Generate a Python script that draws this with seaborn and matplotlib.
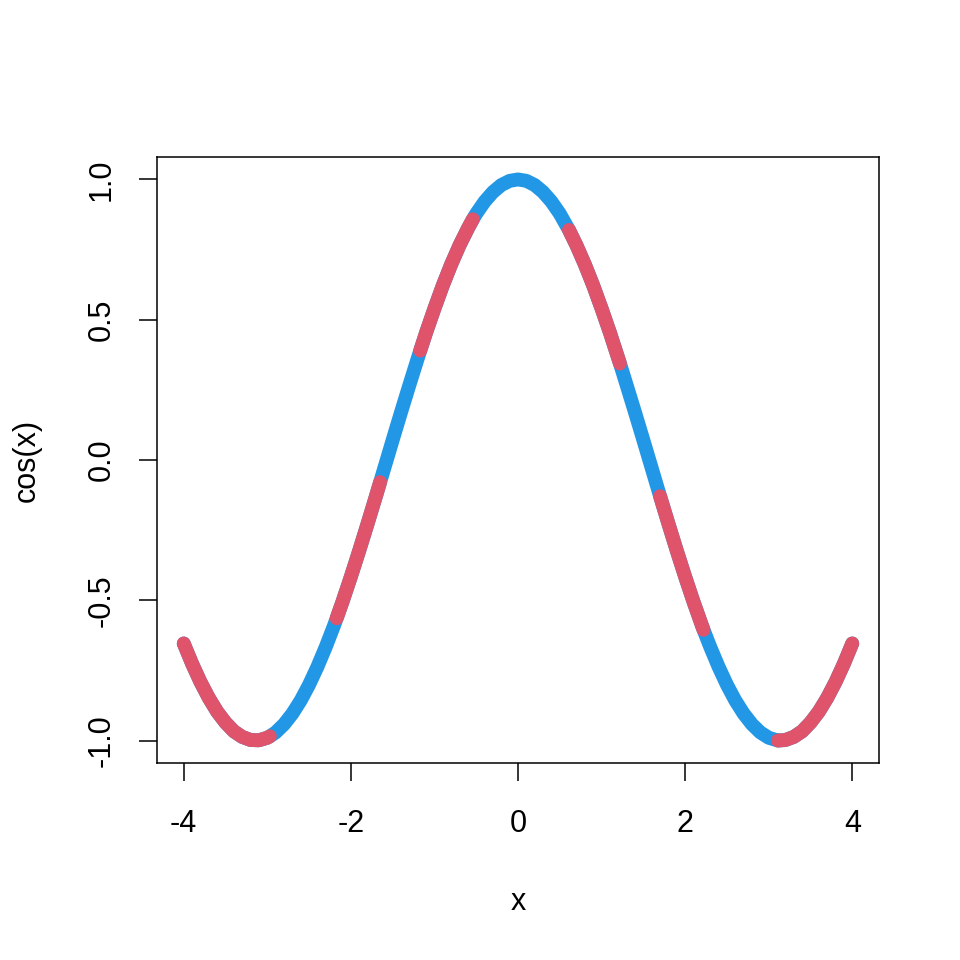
import matplotlib
matplotlib.use("Agg")
import matplotlib.pyplot as plt
import pandas as pd
import seaborn as sns

sns.set_theme(style="white")
plt.rcParams["font.family"] = ["Liberation Sans", "DejaVu Sans"]

BLUE = "#2297E6"
RED = "#DF536B"

# curve points (x, cos(x)), every 0.1
grid_x = [-4.0, -3.9, -3.8, -3.7, -3.6, -3.5, -3.4, -3.3, -3.2, -3.1,
          -3.0, -2.9, -2.8, -2.7, -2.6, -2.5, -2.4, -2.3, -2.2, -2.1,
          -2.0, -1.9, -1.8, -1.7, -1.6, -1.5, -1.4, -1.3, -1.2, -1.1,
          -1.0, -0.9, -0.8, -0.7, -0.6, -0.5, -0.4, -0.3, -0.2, -0.1,
          0.0, 0.1, 0.2, 0.3, 0.4, 0.5, 0.6, 0.7, 0.8, 0.9,
          1.0, 1.1, 1.2, 1.3, 1.4, 1.5, 1.6, 1.7, 1.8, 1.9,
          2.0, 2.1, 2.2, 2.3, 2.4, 2.5, 2.6, 2.7, 2.8, 2.9,
          3.0, 3.1, 3.2, 3.3, 3.4, 3.5, 3.6, 3.7, 3.8, 3.9, 4.0]
grid_y = [-0.654, -0.726, -0.791, -0.848, -0.897, -0.936, -0.967, -0.987, -0.998, -0.999,
          -0.990, -0.971, -0.942, -0.904, -0.857, -0.801, -0.737, -0.666, -0.589, -0.505,
          -0.416, -0.323, -0.227, -0.129, -0.029, 0.071, 0.170, 0.267, 0.362, 0.454,
          0.540, 0.622, 0.697, 0.765, 0.825, 0.878, 0.921, 0.955, 0.980, 0.995,
          1.000, 0.995, 0.980, 0.955, 0.921, 0.878, 0.825, 0.765, 0.697, 0.622,
          0.540, 0.454, 0.362, 0.267, 0.170, 0.071, -0.029, -0.129, -0.227, -0.323,
          -0.416, -0.505, -0.589, -0.666, -0.737, -0.801, -0.857, -0.904, -0.942, -0.971,
          -0.990, -0.999, -0.998, -0.987, -0.967, -0.936, -0.897, -0.848, -0.791, -0.726, -0.654]

# points where the colour changes
break_x = [-2.97, -2.17, -1.65, -1.17, -0.54, 0.61, 1.22, 2.22, 3.11]
break_y = [-0.985, -0.564, -0.079, 0.390, 0.858, 0.820, 0.344, -0.605, -1.000]

# red stretches drawn over the blue curve
red_starts = [-4.0, -2.17, -1.17, 0.61, 1.70, 3.11]
red_ends = [-2.97, -1.65, -0.54, 1.22, 2.22, 4.0]

x_ticks = [-4, -2, 0, 2, 4]
x_labels = ["-4", "-2", "0", "2", "4"]
y_ticks = [-1.0, -0.5, 0.0, 0.5, 1.0]
y_labels = ["-1.0", "-0.5", "0.0", "0.5", "1.0"]

df = pd.DataFrame({"x": grid_x + break_x, "y": grid_y + break_y})
df = df.sort_values("x").reset_index(drop=True)

fig = plt.figure(figsize=(9.6, 9.6), dpi=100)
ax = fig.add_axes([157 / 960, 1 - 763 / 960, 722 / 960, 606 / 960])

line_kw = dict(linewidth=10, estimator=None, sort=True, ax=ax,
               solid_capstyle="round", solid_joinstyle="round")
sns.lineplot(data=df, x="x", y="y", color=BLUE, **line_kw)
for a, b in zip(red_starts, red_ends):
    seg = df[(df["x"] >= a - 1e-9) & (df["x"] <= b + 1e-9)]
    sns.lineplot(data=seg, x="x", y="y", color=RED, **line_kw)

ax.set_xlim(-4.32, 4.32)
ax.set_ylim(-1.08, 1.08)
ax.set_xticks(x_ticks)
ax.set_xticklabels(x_labels)
ax.set_yticks(y_ticks)
ax.set_yticklabels(y_labels)
for lab in ax.get_yticklabels():
    lab.set_rotation(90)
    lab.set_va("center")

for s in ax.spines.values():
    s.set_visible(True)
    s.set_color("black")
    s.set_linewidth(1.1)

ax.tick_params(axis="both", direction="out", length=13, width=1.1, color="black",
               labelsize=22, labelcolor="black", bottom=True, left=True)
ax.tick_params(axis="x", pad=20)
ax.tick_params(axis="y", pad=16)

ax.set_xlabel("x", fontsize=22, color="black")
ax.set_ylabel("cos(x)", fontsize=22, color="black")
ax.xaxis.set_label_coords(0.5, (763 - 902) / 606)
ax.xaxis.label.set_va("center")
ax.yaxis.set_label_coords((27 - 157) / 722, 0.5)
ax.yaxis.label.set_va("center")
ax.grid(False)

fig.savefig("out.png", dpi=100, facecolor="white")
